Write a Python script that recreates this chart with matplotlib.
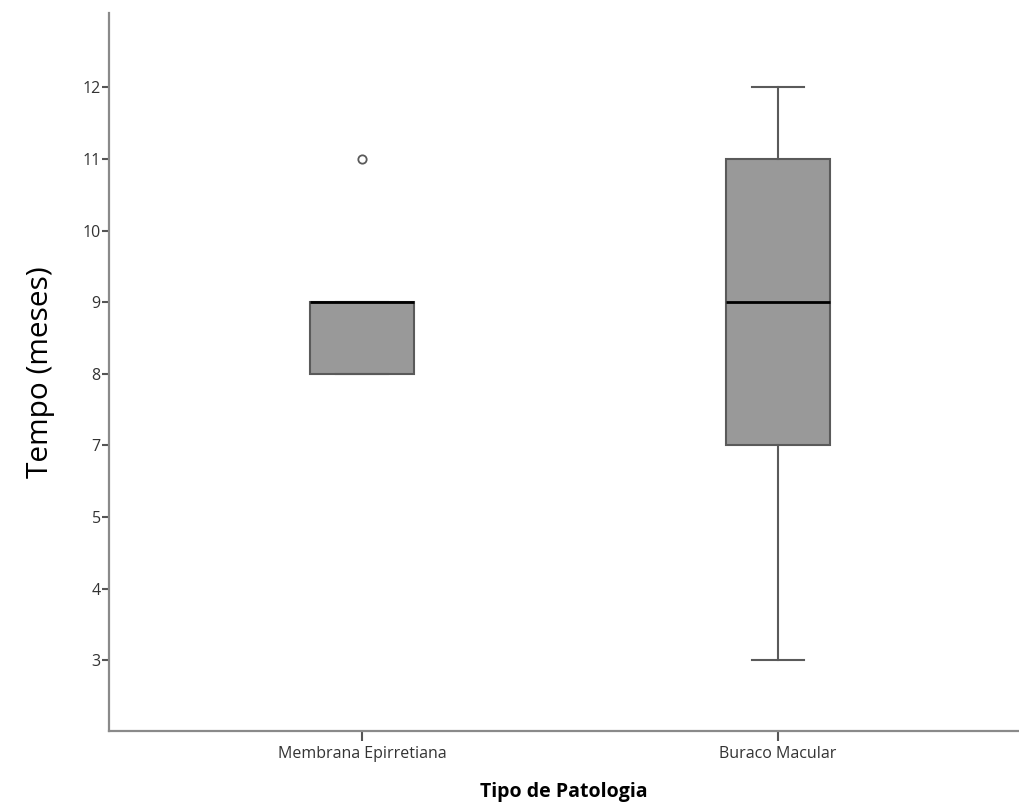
import matplotlib
matplotlib.use("Agg")
import matplotlib.pyplot as plt

# categories and summary values (months)
categorias = ["Membrana Epirretiana", "Buraco Macular"]
# the axis is ordinal: only observed values get a slot (no 6)
niveis = [3, 4, 5, 7, 8, 9, 10, 11, 12]

minimo = [8, 3]
q1 = [8, 7]
mediana = [9, 9]
q3 = [9, 11]
maximo = [9, 12]
outliers = [[11], []]

pos = lambda v: niveis.index(v)

stats = []
for i, nome in enumerate(categorias):
    stats.append({
        "label": nome,
        "whislo": pos(minimo[i]),
        "q1": pos(q1[i]),
        "med": pos(mediana[i]),
        "q3": pos(q3[i]),
        "whishi": pos(maximo[i]),
        "fliers": [pos(v) for v in outliers[i]],
    })

plt.rcParams['font.family'] = ['Open Sans', 'DejaVu Sans']

fig = plt.figure(figsize=(10.19, 8.09), dpi=100)
ax = fig.add_axes([109 / 1019, 1 - 731 / 809, 1 - 109 / 1019, (731 - 13) / 809])

cinza = "#5a5a5a"
ax.bxp(stats, positions=[0, 1], widths=0.25, patch_artist=True,
       boxprops=dict(facecolor="#999999", edgecolor=cinza, linewidth=1.5),
       medianprops=dict(color="black", linewidth=2),
       whiskerprops=dict(color=cinza, linewidth=1.5),
       capprops=dict(color=cinza, linewidth=1.5),
       capwidths=0.125,
       flierprops=dict(marker="o", markerfacecolor="white", markeredgecolor=cinza,
                       markersize=6, markeredgewidth=1.3))

ax.set_xlim(-0.608, 1.579)
ax.set_ylim(-0.99, 9.04)
ax.set_yticks(range(len(niveis)))
ax.set_yticklabels([str(v) for v in niveis])
ax.set_xticks([0, 1])
ax.set_xticklabels(categorias)

for s in ["top", "right"]:
    ax.spines[s].set_visible(False)
for s in ["left", "bottom"]:
    ax.spines[s].set_color("#8a8a8a")
    ax.spines[s].set_linewidth(1.6)

ax.tick_params(axis="y", length=5, width=1.5, color="#555555", labelsize=11.5, labelcolor="#333333", pad=1)
ax.tick_params(axis="x", length=7, width=1.5, color="#555555", labelsize=11.5, labelcolor="#333333", pad=4)

ax.set_ylabel("Tempo (meses)", fontsize=21.5, labelpad=20)
ax.set_xlabel("Tipo de Patologia", fontsize=14, fontweight="bold", labelpad=14)

fig.savefig("out.png", dpi=100)
